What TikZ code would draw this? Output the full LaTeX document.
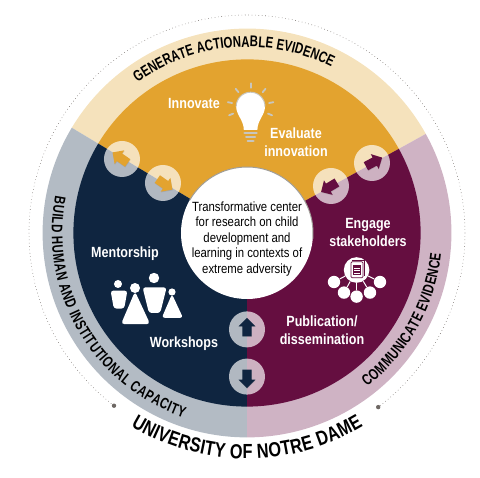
\documentclass[tikz,border=0pt]{standalone}
\usepackage{fontspec}
\setmainfont[FakeStretch=0.85]{Liberation Sans}
\newfontfamily\ringfam[FakeStretch=0.74]{Liberation Sans}
\newfontfamily\campusfam[FakeStretch=0.8]{Liberation Sans}
\definecolor{ndyellow}{RGB}{227,163,47}
\definecolor{ndnavy}{RGB}{15,37,64}
\definecolor{ndmaroon}{RGB}{101,14,64}
\definecolor{ndcream}{RGB}{245,226,188}
\definecolor{ndslate}{RGB}{179,187,196}
\definecolor{ndpink}{RGB}{207,179,196}
\definecolor{ndbulb}{RGB}{200,198,190}
\definecolor{nddot}{RGB}{110,104,100}
\usetikzlibrary{arrows.meta,positioning,calc,shapes.arrows,shadows,decorations.text}
\newcommand{\ringfont}{\ringfam\fontsize{11}{12}\bfseries\selectfont}
\newcommand{\campusfont}{\campusfam\fontsize{14.5}{17}\bfseries\selectfont}
\tikzset{
  lbl/.style={font=\fontsize{10.5}{12.8}\bfseries\selectfont, text=white, align=center},
  bubble/.style={circle, fill=white, fill opacity=0.68, minimum size=0.9cm, inner sep=0pt},
  flow/.style={single arrow, single arrow head extend=0.08cm, single arrow head indent=0pt,
    minimum height=0.46cm, minimum width=0.42cm, inner xsep=0pt, inner ysep=0.09cm,
    drop shadow={shadow xshift=0.2pt, shadow yshift=-0.5pt, opacity=0.3}},
  leaf/.style={circle, fill=white, minimum size=0.31cm, inner sep=0pt},
  link/.style={draw=white, line width=0.7pt},
  ray/.style={draw=ndbulb, line width=1.3pt, line cap=round},
  ringcap/.style 2 args={font=#1, every node/.append style={font=#1},
    decorate, decoration={text effects along path, text={#2},
      text effects/.cd, text along path, fit text to path,
      characters/.append style={inner sep=0pt}}}
}

\begin{document}
\begin{tikzpicture}
  \useasboundingbox (-6.175,-6.125) rectangle (5.825,5.825);

  %% Outer ring
  \fill[ndcream] (0,0) -- (149:5.11) arc[start angle=149, end angle=29, radius=5.11] -- cycle;
  \fill[ndpink] (0,0) -- (29:5.11) arc[start angle=29, end angle=-90, radius=5.11] -- cycle;
  \fill[ndslate] (0,0) -- (270:5.11) arc[start angle=270, end angle=149, radius=5.11] -- cycle;

  %% Inner disc
  \fill[ndyellow] (0,0) -- (149:4.34) arc[start angle=149, end angle=29, radius=4.34] -- cycle;
  \fill[ndmaroon] (0,0) -- (29:4.34) arc[start angle=29, end angle=-90, radius=4.34] -- cycle;
  \fill[ndnavy] (0,0) -- (270:4.34) arc[start angle=270, end angle=149, radius=4.34] -- cycle;

  %% Dotted arc and its end dots
  \node[circle, fill=nddot, minimum size=0.11cm, inner sep=0pt] (dotl) at (232.4:5.45) {};
  \node[circle, fill=nddot, minimum size=0.11cm, inner sep=0pt] (dotr) at (307:5.45) {};
  \draw[nddot, dotted, line width=0.4pt] (232.4:5.45) arc[start angle=232.4, end angle=-53, radius=5.45];

  %% Ring captions
  \path[ringcap={\ringfont}{GENERATE ACTIONABLE EVIDENCE}]
    (126:4.65) arc[start angle=126, end angle=63, radius=4.65];
  \path[ringcap={\ringfont}{BUILD HUMAN AND INSTITUTIONAL CAPACITY}]
    (169:4.88) arc[start angle=169, end angle=251, radius=4.88];
  \path[ringcap={\ringfont}{COMMUNICATE EVIDENCE}]
    (-52:4.88) arc[start angle=-52, end angle=-6, radius=4.88];
  \path[ringcap={\campusfont}{UNIVERSITY OF NOTRE DAME}]
    (239:5.64) arc[start angle=239, end angle=301, radius=5.64];

  %% Centre
  \node[circle, fill=white, minimum size=3.3cm, inner sep=0pt] (hub) at (0,0) {};
  \draw[ndbulb!80!black, line width=0.7pt] (-5:1.65) arc[start angle=-5, end angle=150, radius=1.65];
  \node[font=\fontsize{9.5}{11}\selectfont, align=center] (hubtext) at (0,-0.15)
    {Transformative center\\for research on child\\development and\\learning in contexts of\\extreme adversity};

  %% Exchange bubbles and arrows
  \node[bubble] (bubblea) at (-3.125,1.85) {};
  \node[bubble] (bubbleb) at (-2.1,1.25) {};
  \node[bubble] (bubblec) at (3.125,1.75) {};
  \node[bubble] (bubbled) at (2.1,1.175) {};
  \node[bubble] (bubblee) at (0,-2.41) {};
  \node[bubble] (bubblef) at (0,-3.59) {};
  \node[flow, fill=ndyellow, rotate=145] (flowa) at (bubblea) {};
  \node[flow, fill=ndyellow, rotate=-35] (flowb) at (bubbleb) {};
  \node[flow, fill=ndmaroon, rotate=28] (flowc) at (bubblec) {};
  \node[flow, fill=ndmaroon, rotate=211] (flowd) at (bubbled) {};
  \node[flow, fill=ndnavy, rotate=90] (flowe) at (bubblee) {};
  \node[flow, fill=ndnavy, rotate=-90] (flowf) at (bubblef) {};

  %% Sector labels
  \node[lbl] (innovate) at (-1.325,3.25) {Innovate};
  \node[lbl] (evaluate) at (1.225,2.275) {Evaluate\\innovation};
  \node[lbl] (engage) at (3.025,0.025) {Engage\\stakeholders};
  \node[lbl] (publication) at (1.875,-2.425) {Publication/\\dissemination};
  \node[lbl] (mentorship) at (-3.05,-0.525) {Mentorship};
  \node[lbl] (workshops) at (-1.575,-2.775) {Workshops};

  %% Light bulb
  \fill[white] (-0.08,2.58) .. controls (-0.08,2.82) and (-0.27,2.95) .. (-0.27,3.16)
    arc[start angle=180, end angle=0, radius=0.36]
    .. controls (0.45,2.95) and (0.26,2.82) .. (0.26,2.58) -- cycle;
  \draw[ndbulb, line width=0.7pt] (-0.27,3.16) arc[start angle=180, end angle=0, radius=0.36];
  \foreach \y/\w in {2.5/0.15, 2.4/0.11, 2.3/0.07}
    \draw[ndbulb, line width=1.8pt, line cap=round] (0.09-\w,\y) -- (0.09+\w,\y);
  \foreach \a in {90,50,130,11,169,-22,202}
    \draw[ray] ($(0.09,3.16)+(\a:0.47)$) -- ($(0.09,3.16)+(\a:0.58)$);

  %% People
  \foreach \x/\y/\r in {-3.225/-1.275/0.1, -2.8/-1.375/0.125, -2.325/-1.125/0.13, -1.875/-1.475/0.09}
    \fill[white] (\x,\y) circle (\r);
  \fill[white, rounded corners=2pt] (-3.41,-1.44) -- (-2.99,-1.44) -- (-3.07,-1.89) -- (-3.33,-1.89) -- cycle;
  \fill[white, rounded corners=2.5pt] (-2.8,-1.46) -- (-2.42,-2.28) -- (-3.15,-2.28) -- cycle;
  \fill[white, rounded corners=2pt] (-2.61,-1.36) -- (-2.01,-1.36) -- (-2.17,-2) -- (-2.45,-2) -- cycle;
  \fill[white, rounded corners=2pt] (-1.875,-1.53) -- (-1.6,-2.12) -- (-2.13,-2.12) -- cycle;

  %% Document network
  \node[circle, fill=white, minimum size=0.64cm, inner sep=0pt] (doc) at (2.74,-0.925) {};
  \node[leaf] (leafa) at (2.175,-1.225) {};
  \node[leaf] (leafb) at (2.425,-1.49) {};
  \node[leaf] (leafc) at (2.74,-1.59) {};
  \node[leaf] (leafd) at (3.075,-1.49) {};
  \node[leaf] (leafe) at (3.325,-1.225) {};
  \foreach \n in {leafa,leafb,leafc,leafd,leafe}
    \draw[link] (doc) -- (\n);
  \draw[ndmaroon, line width=0.5pt, rounded corners=0.8pt] (2.6,-1.12) rectangle (2.9,-0.72);
  \draw[ndmaroon, line width=0.5pt] (2.63,-0.68) -- (2.94,-0.68) -- (2.94,-1.08);
  \fill[ndmaroon] (2.65,-1.06) rectangle (2.85,-0.79);
  \foreach \y in {-0.87,-0.94,-1.01}
    \draw[white, line width=0.4pt] (2.67,\y) -- (2.83,\y);
\end{tikzpicture}
\end{document}
